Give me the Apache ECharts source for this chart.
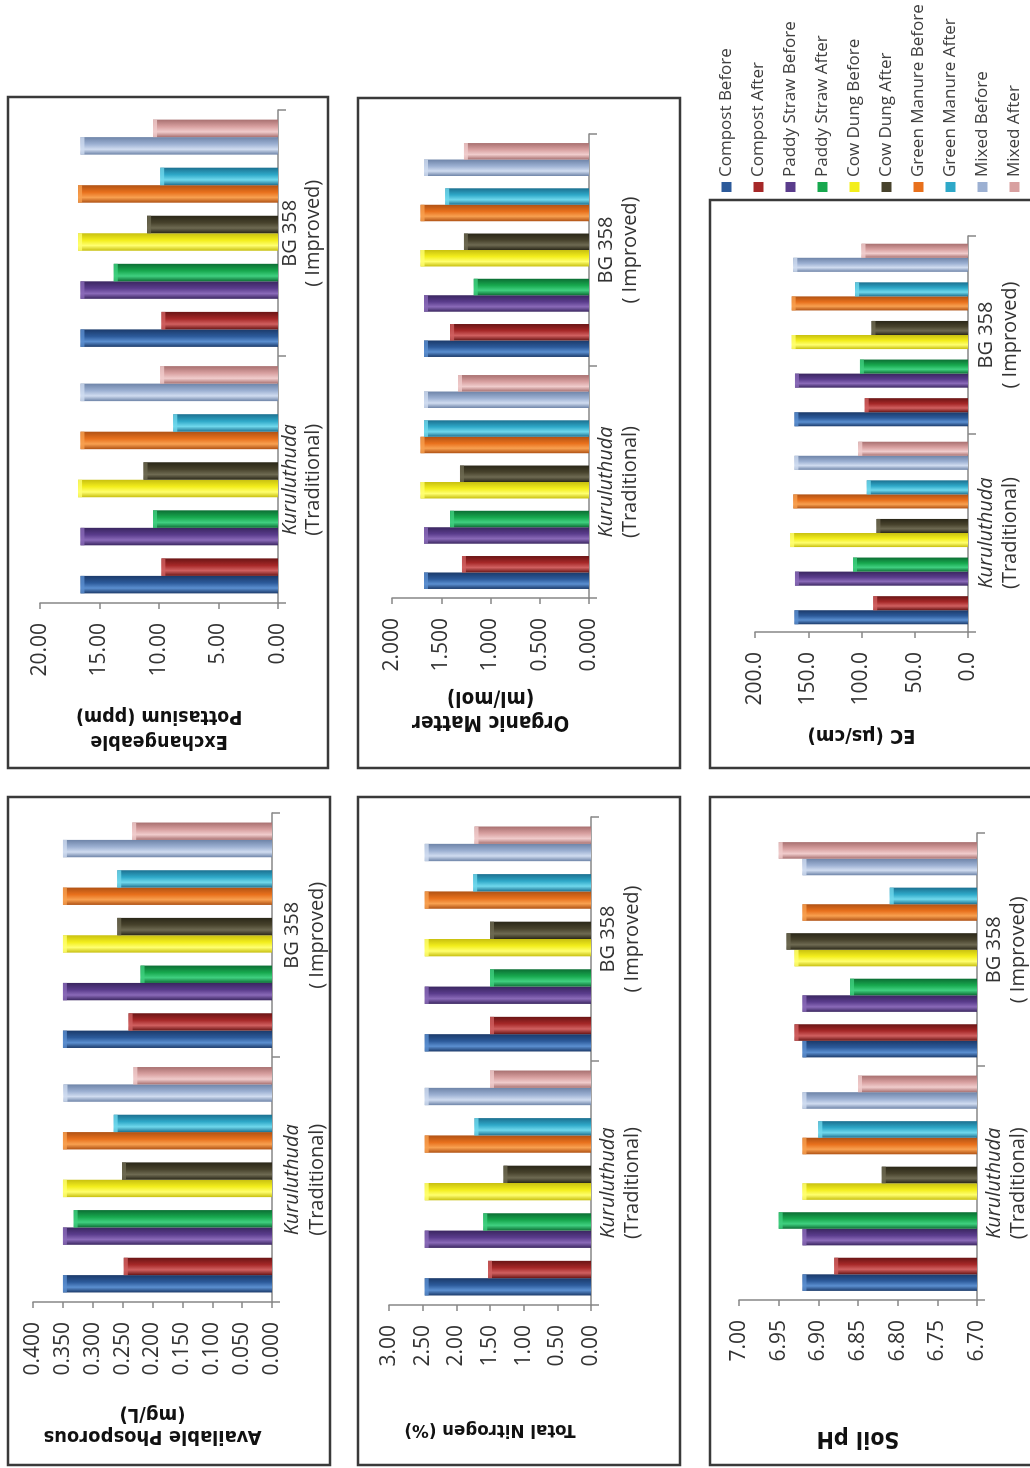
<!DOCTYPE html>
<html><head><meta charset="utf-8">
<script src="https://cdn.jsdelivr.net/npm/echarts@6/dist/echarts.min.js"></script>
<style>
html,body{margin:0;padding:0;width:1030px;height:1468px;overflow:hidden;background:#fff;}
#chart{position:absolute;left:0;top:0;width:1468px;height:1030px;transform-origin:0 0;transform:translate(0,1468px) rotate(-90deg);}
</style></head><body><div id="chart"></div>
<script>
// ---- data ----
const categoryNames = ['Kuruluthuda', 'BG 358'];
const categorySub = ['(Traditional)', '( Improved)'];
const seriesNames = ['Compost Before','Compost After','Paddy Straw Before','Paddy Straw After','Cow Dung Before','Cow Dung After','Green Manure Before','Green Manure After','Mixed Before','Mixed After'];

const phosKur = [0.350, 0.248, 0.350, 0.332, 0.350, 0.251, 0.350, 0.265, 0.349, 0.232];
const phosBG  = [0.350, 0.240, 0.350, 0.220, 0.350, 0.259, 0.350, 0.259, 0.350, 0.234];
const potKur  = [16.6, 9.8, 16.6, 10.5, 16.8, 11.3, 16.6, 8.8, 16.6, 9.9];
const potBG   = [16.6, 9.8, 16.6, 13.8, 16.8, 11.0, 16.8, 9.9, 16.6, 10.5];
const nitKur  = [2.47, 1.53, 2.47, 1.60, 2.47, 1.30, 2.47, 1.73, 2.47, 1.50];
const nitBG   = [2.47, 1.50, 2.47, 1.50, 2.47, 1.50, 2.47, 1.75, 2.47, 1.73];
const omKur   = [1.675, 1.29, 1.675, 1.41, 1.71, 1.31, 1.71, 1.675, 1.675, 1.33];
const omBG    = [1.675, 1.41, 1.675, 1.17, 1.71, 1.27, 1.71, 1.46, 1.675, 1.27];
const phKur   = [6.92, 6.88, 6.92, 6.95, 6.92, 6.82, 6.92, 6.90, 6.92, 6.85];
const phBG    = [6.92, 6.93, 6.92, 6.86, 6.93, 6.94, 6.92, 6.81, 6.92, 6.95];
const ecKur   = [163, 89, 162.5, 108, 167, 86, 164, 95, 163, 103];
const ecBG    = [163, 97, 162.5, 101.5, 165.6, 90.6, 165.6, 106, 164, 100];

// axis ticks: [min, max, interval, decimals]
const phosTicks = [0, 0.4, 0.05, 3];
const potTicks  = [0, 20, 5, 2];
const nitTicks  = [0, 3, 0.5, 2];
const omTicks   = [0, 2, 0.5, 3];
const phTicks   = [6.7, 7.0, 0.05, 2];
const ecTicks   = [0, 200, 50, 1];

const axisTitles = ['Available Phosporous\n(mg/L)', 'Exchangeable\nPottasium (ppm)', 'Total Nitrogen (%)', 'Organic Matter\n(ml/mol)', 'Soil pH', 'EC (µs/cm)'];

// ---- styling ----
const colors = [
  ['#5b8fd0','#2c5a9a','#1b3a6a'],
  ['#d06060','#a62828','#6a1515'],
  ['#8a6ab8','#5a3c8c','#3a2660'],
  ['#40d080','#17a84e','#0c6e34'],
  ['#ffff70','#f3ee1c','#c8c010'],
  ['#6e6a52','#47422c','#2a2718'],
  ['#f8a050','#e8701c','#b05214'],
  ['#70d8ec','#2ea8c8','#1c7090'],
  ['#d0dcf0','#9cb0d2','#6e84a8'],
  ['#f0cccc','#d8a0a0','#a87070']
];

const panels = [
  {kur: phosKur, bg: phosBG, ticks: phosTicks, title: axisTitles[0], grid:{left:166, top:33, width:489, height:239}, gap:101, size:20, lh:22, lm:8, llh:25},
  {kur: potKur,  bg: potBG,  ticks: potTicks,  title: axisTitles[1], grid:{left:865, top:40, width:493, height:238}, gap:101, size:19.5, lh:25, lm:1, llh:23},
  {kur: nitKur,  bg: nitBG,  ticks: nitTicks,  title: axisTitles[2], grid:{left:163, top:389, width:488, height:202}, gap:113, size:18.5, lh:24, lm:5, llh:24},
  {kur: omKur,   bg: omBG,   ticks: omTicks,   title: axisTitles[3], grid:{left:870, top:392, width:464, height:197}, gap:87, size:20.5, lh:24, lm:5, llh:24},
  {kur: phKur,   bg: phBG,   ticks: phTicks,   title: axisTitles[4], grid:{left:168, top:739, width:467, height:238}, gap:126, size:23, lh:24, lm:5, llh:24},
  {kur: ecKur,   bg: ecBG,   ticks: ecTicks,   title: axisTitles[5], grid:{left:836, top:755, width:396, height:213}, gap:91, size:20, lh:24, lm:6, llh:24}
];
const boxes = [[3,8,668,322],[700,8,671,320],[3,358,668,322],[700,358,670,322],[3,710,668,340],[700,710,568,340]];

function makeRender(si, vmin) {
  return function (params, api) {
    const c = api.value(0), v = api.value(1);
    const top = api.coord([c, v]);
    const base = api.coord([c, vmin]);
    const band = api.size([1, 0])[0];
    const w = band * 0.071, g = band * 0.053;
    const total = 10 * w + 4 * g;
    const x0 = top[0] - total / 2 + Math.floor(si / 2) * (2 * w + g) + (si % 2) * w;
    const col = colors[si];
    const h = base[1] - top[1];
    return {type: 'group', children: [
      {type: 'rect', shape: {x: x0, y: top[1], width: w, height: h},
        style: {fill: new echarts.graphic.LinearGradient(0, 0, 1, 0, [
          {offset: 0, color: col[2]}, {offset: 0.3, color: col[0]}, {offset: 0.6, color: col[1]}, {offset: 1, color: col[2]}])}},
      {type: 'rect', shape: {x: x0, y: top[1], width: w, height: Math.min(4, h)}, style: {fill: col[0], opacity: 0.8}}
    ]};
  };
}

const chart = echarts.init(document.getElementById('chart'), null, {renderer: 'canvas'});
const option = {
  animation: false,
  backgroundColor: '#ffffff',
  grid: [], xAxis: [], yAxis: [], series: [],
  legend: {
    orient: 'vertical', left: 1276, top: 718, padding: 0,
    itemWidth: 10, itemHeight: 10, itemGap: 15, icon: 'rect', selectedMode: false,
    textStyle: {fontFamily: 'Open Sans', fontSize: 17, lineHeight: 17, color: '#404040'},
    data: seriesNames
  },
  graphic: boxes.map(b => ({type: 'rect', silent: true, z: 100,
    shape: {x: b[0], y: b[1], width: b[2], height: b[3]},
    style: {fill: 'none', stroke: '#3a3a3a', lineWidth: 2.5}}))
};

panels.forEach((p, pi) => {
  option.grid.push(Object.assign({containLabel: false}, p.grid));
  option.xAxis.push({
    type: 'category', gridIndex: pi, data: categoryNames,
    axisLine: {lineStyle: {color: '#868686', width: 1.5}},
    axisTick: {show: true, length: 8, lineStyle: {color: '#868686', width: 1.5}},
    axisLabel: {
      interval: 0, margin: p.lm,
      formatter: (val, idx) => '{' + (idx === 0 ? 'ai' : 'a') + '|' + categoryNames[idx] + '}\n{b|' + categorySub[idx] + '}',
      rich: {
        ai: {fontFamily: 'Open Sans', fontSize: 20, fontStyle: 'italic', lineHeight: p.llh, color: '#333'},
        a:  {fontFamily: 'Open Sans', fontSize: 20, lineHeight: p.llh, color: '#333'},
        b:  {fontFamily: 'Open Sans', fontSize: 20, lineHeight: p.llh, color: '#333'}
      }
    }
  });
  option.yAxis.push({
    type: 'value', gridIndex: pi, min: p.ticks[0], max: p.ticks[1], interval: p.ticks[2],
    splitLine: {show: false},
    axisLine: {show: true, lineStyle: {color: '#868686', width: 1.5}},
    axisTick: {show: true, length: 6, lineStyle: {color: '#868686', width: 1.5}},
    axisLabel: {margin: 20, fontFamily: 'Open Sans', fontSize: 21, color: '#333',
      formatter: (v) => v.toFixed(p.ticks[3])},
    name: p.title, nameLocation: 'middle', nameGap: p.gap, nameRotate: 90,
    nameTextStyle: {fontFamily: "'DejaVu Sans Condensed', 'DejaVu Sans'", fontWeight: 'bold', fontSize: p.size, lineHeight: p.lh, color: '#111'}
  });
  seriesNames.forEach((name, si) => {
    option.series.push({
      type: 'custom', name: name, xAxisIndex: pi, yAxisIndex: pi,
      itemStyle: {color: colors[si][1]},
      encode: {x: 0, y: 1},
      renderItem: makeRender(si, p.ticks[0]),
      data: [[0, p.kur[si]], [1, p.bg[si]]]
    });
  });
});
chart.setOption(option);
</script></body></html>
